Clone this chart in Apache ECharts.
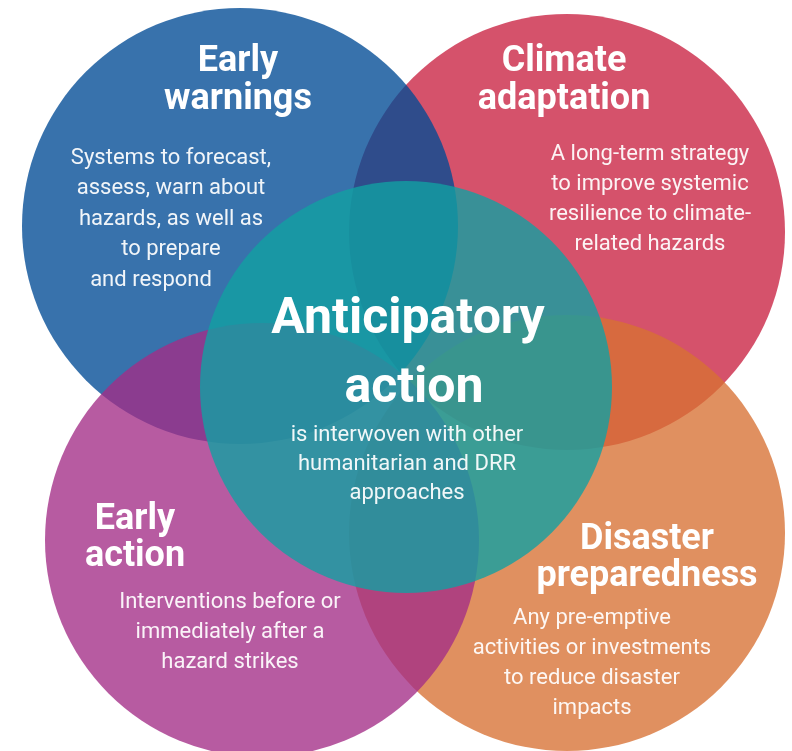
<!DOCTYPE html>
<html>
<head>
<meta charset="utf-8">
<script src="https://cdn.jsdelivr.net/npm/echarts@6/dist/echarts.min.js"></script>
<style>
html, body { margin: 0; padding: 0; background: #fff; }
#chart { width: 792px; height: 751px; }
</style>
</head>
<body>
<div id="chart"></div>
<script>
// circles, in drawing order (later ones sit on top)
var circleNames = ['Climate adaptation', 'Disaster preparedness', 'Early warnings', 'Early action', 'Anticipatory action'];
var centerX = [567, 567, 240, 262, 406];
var centerY = [232, 533, 226, 540, 387];
var radius = [218, 218, 218, 217, 206];

var titleLines = [
    ['Early', 'warnings'],
    ['Climate', 'adaptation'],
    ['Anticipatory', 'action'],
    ['Early', 'action'],
    ['Disaster', 'preparedness']
];
var descLines = [
    ['Systems to forecast,', 'assess, warn about', 'hazards, as well as', 'to prepare', 'and respond'],
    ['A long-term strategy', 'to improve systemic', 'resilience to climate-', 'related hazards'],
    ['is interwoven with other', 'humanitarian and DRR', 'approaches'],
    ['Interventions before or', 'immediately after a', 'hazard strikes'],
    ['Any pre-emptive', 'activities or investments', 'to reduce disaster', 'impacts']
];

// fill colours (semi transparent, so overlaps mix)
var fills = {
    'Climate adaptation': 'rgba(201,33,65,0.78)',
    'Disaster preparedness': 'rgba(215,113,51,0.78)',
    'Early warnings': 'rgba(0,74,149,0.78)',
    'Early action': 'rgba(163,45,135,0.78)',
    'Anticipatory action': 'rgba(18,160,162,0.8)'
};

// text layout: centre x, first line centre y, line step
var titleLayout = [
    { x: 238, y: 62, step: 38, size: 36, dx: [0, 0] },
    { x: 564, y: 62, step: 38, size: 36, dx: [0, 0] },
    { x: 408, y: 320, step: 69, size: 50, dx: [0, 6] },
    { x: 135, y: 520, step: 37, size: 36, dx: [0, 0] },
    { x: 647, y: 540, step: 37, size: 36, dx: [0, 0] }
];
var descLayout = [
    { x: 171, y: 158, step: 30.5, dx: [0, 0, 0, 0, -20] },
    { x: 650, y: 154, step: 30, dx: [0, 0, 0, 0] },
    { x: 407, y: 435, step: 29, dx: [0, 0, 0] },
    { x: 230, y: 602, step: 30, dx: [0, 0, 0] },
    { x: 592, y: 618, step: 30.3, dx: [0, 0, 0, 0] }
];
var order = ['Early warnings', 'Climate adaptation', 'Anticipatory action', 'Early action', 'Disaster preparedness'];

var seriesData = [];
for (var i = 0; i < circleNames.length; i++) {
    seriesData.push({ name: circleNames[i], value: [centerX[i], centerY[i], radius[i]] });
}

var texts = [];
for (var k = 0; k < order.length; k++) {
    var t = titleLayout[k];
    for (var a = 0; a < titleLines[k].length; a++) {
        texts.push({
            type: 'text',
            x: t.x + t.dx[a],
            y: t.y + a * t.step,
            z: 10,
            style: {
                text: titleLines[k][a],
                fill: '#ffffff',
                fontFamily: 'Roboto',
                fontWeight: 'bold',
                fontSize: t.size,
                align: 'center',
                verticalAlign: 'middle'
            }
        });
    }
    var d = descLayout[k];
    for (var b = 0; b < descLines[k].length; b++) {
        texts.push({
            type: 'text',
            x: d.x + d.dx[b],
            y: d.y + b * d.step,
            z: 10,
            style: {
                text: descLines[k][b],
                fill: 'rgba(255,255,255,0.93)',
                fontFamily: 'Roboto',
                fontSize: 22,
                align: 'center',
                verticalAlign: 'middle'
            }
        });
    }
}

var chart = echarts.init(document.getElementById('chart'), null, { renderer: 'canvas' });
chart.setOption({
    backgroundColor: '#ffffff',
    animation: false,
    grid: { left: 0, right: 0, top: 0, bottom: 0 },
    xAxis: { type: 'value', min: 0, max: 792, show: false },
    yAxis: { type: 'value', min: 0, max: 751, inverse: true, show: false },
    series: [{
        type: 'custom',
        clip: false,
        data: seriesData,
        renderItem: function(params, api) {
            var c = api.coord([api.value(0), api.value(1)]);
            var r = Math.abs(api.size([api.value(2), 0])[0]);
            return {
                type: 'circle',
                shape: { cx: c[0], cy: c[1], r: r },
                style: { fill: fills[circleNames[params.dataIndex]], stroke: null }
            };
        }
    }],
    graphic: texts
});
</script>
</body>
</html>
